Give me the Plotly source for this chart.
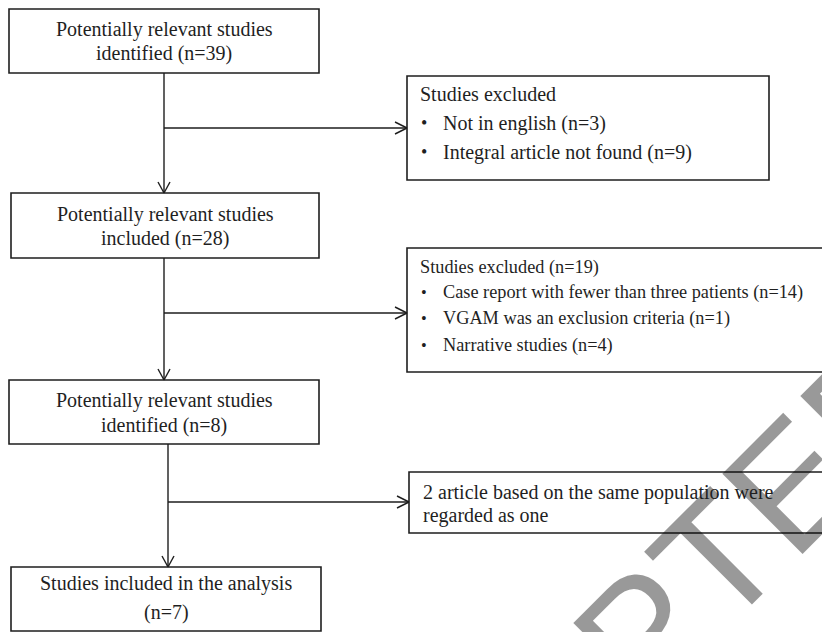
import plotly.graph_objects as go

# ---------------- content (text data) ----------------
main_box_lines = [
    ["Potentially relevant studies", "identified (n=39)"],
    ["Potentially relevant studies", "included (n=28)"],
    ["Potentially relevant studies", "identified (n=8)"],
    ["Studies included in the analysis", "(n=7)"],
]
side_headers = ["Studies excluded", "Studies excluded (n=19)", None]
side_bullets = [
    ["Not in english (n=3)", "Integral article not found (n=9)"],
    ["Case report with fewer than three patients (n=14)",
     "VGAM was an exclusion criteria (n=1)",
     "Narrative studies (n=4)"],
    [],
]
side_plain = [None, None, ["2 article based on the same population were", "regarded as one"]]
watermark_text = "ACCEPTED"

# ---------------- layout geometry (pixels, y downward) ----------------
W, H = 830, 632
PAGE_MARGIN = 8  # default body margin of the html page
main_geom = [  # x0, y0, x1, y1, line y positions, font size
    (9, 9, 319, 73, [29, 53], 20),
    (11, 193, 319, 258, [214, 238], 20),
    (9, 380, 319, 444, [400, 425], 20),
    (11, 567, 321, 631, [583, 612], 20),
]
side_geom = [  # x0, y0, x1, y1, line ys, font size
    (407, 76, 769, 180, [94, 123, 152], 20),
    (407, 248, 840, 372, [267, 292, 318, 345], 18.3),
    (409, 472, 840, 533, [492, 515], 20),
]
trunk_x = [164, 164, 168]       # vertical connector x per stage
branch_y = [128, 313, 502]      # horizontal branch y per stage
wm_center = (597, 679)          # watermark centre (pixels)

LINE = "#1e1e1e"
TXT = "#1f1f1f"
SERIF = "Liberation Serif, Times New Roman, serif"

fig = go.Figure()
fig.add_trace(go.Scatter(x=[PAGE_MARGIN, W], y=[PAGE_MARGIN, H], mode="markers",
                         marker=dict(opacity=0), hoverinfo="skip", showlegend=False))

shapes = []
annotations = []

# watermark (paper coordinates so it is not hidden when centred off-range)
wx = (wm_center[0] - PAGE_MARGIN) / (W - PAGE_MARGIN)
wy = (H - wm_center[1]) / (H - PAGE_MARGIN)
annotations.append(dict(
    x=wx, y=wy, xref="paper", yref="paper", text=watermark_text, showarrow=False,
    textangle=-45, xanchor="center", yanchor="middle",
    font=dict(family="Liberation Sans, Arial, sans-serif", size=165,
              color="rgba(0,0,0,0.40)")))

def box(x0, y0, x1, y1):
    shapes.append(dict(type="rect", x0=x0, y0=y0, x1=x1, y1=y1, xref="x", yref="y",
                       line=dict(color=LINE, width=1.6), fillcolor="rgba(0,0,0,0)",
                       layer="above"))

def seg(x0, y0, x1, y1, w=1.4):
    shapes.append(dict(type="line", x0=x0, y0=y0, x1=x1, y1=y1, xref="x", yref="y",
                       line=dict(color=LINE, width=w), layer="above"))

def arrow_down(x, y0, y1):
    seg(x, y0, x, y1)
    seg(x - 6, y1 - 11, x, y1)
    seg(x + 6, y1 - 11, x, y1)

def arrow_right(x0, x1, y):
    seg(x0, y, x1, y)
    seg(x1 - 12, y - 6, x1, y)
    seg(x1 - 12, y + 6, x1, y)

def text(x, y, s, size, anchor="center"):
    annotations.append(dict(x=x, y=y, xref="x", yref="y", text=s, showarrow=False,
                            xanchor=anchor, yanchor="middle",
                            font=dict(family=SERIF, size=size, color=TXT)))

# main column boxes
for lines, (x0, y0, x1, y1, ys, fs) in zip(main_box_lines, main_geom):
    box(x0, y0, x1, y1)
    cx = (x0 + x1) / 2
    for s, yy in zip(lines, ys):
        text(cx, yy, s, fs)

# side boxes
for i, (x0, y0, x1, y1, ys, fs) in enumerate(side_geom):
    box(x0, y0, x1, y1)
    k = 0
    if side_headers[i]:
        text(x0 + 11, ys[k], side_headers[i], fs, "left"); k += 1
    for b in side_bullets[i]:
        text(x0 + 12, ys[k], "•", fs - 2, "left")
        text(x0 + 34, ys[k], b, fs, "left"); k += 1
    if side_plain[i]:
        for s in side_plain[i]:
            text(x0 + 12, ys[k], s, fs, "left"); k += 1

# connectors
for i in range(3):
    top = main_geom[i][3]
    bottom = main_geom[i + 1][1]
    arrow_down(trunk_x[i], top, bottom)
    arrow_right(trunk_x[i], side_geom[i][0], branch_y[i])

fig.update_layout(
    width=W - PAGE_MARGIN, height=H - PAGE_MARGIN, margin=dict(l=0, r=0, t=0, b=0),
    paper_bgcolor="white", plot_bgcolor="white",
    xaxis=dict(range=[PAGE_MARGIN, W], visible=False, fixedrange=True),
    yaxis=dict(range=[H, PAGE_MARGIN], visible=False, fixedrange=True),
    shapes=shapes, annotations=annotations, showlegend=False,
)
fig.write_html("out.html")
